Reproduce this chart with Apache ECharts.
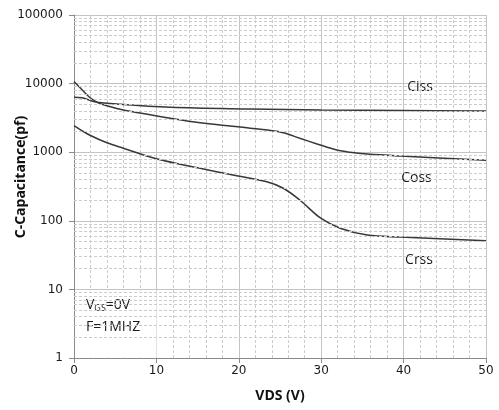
<!DOCTYPE html>
<html>
<head>
<meta charset="utf-8">
<script src="https://cdn.jsdelivr.net/npm/echarts@6/dist/echarts.min.js"></script>
<style>html,body{margin:0;padding:0;background:#fff}#c{width:499px;height:410px}</style>
</head>
<body>
<div id="c"></div>
<script>
// ---- data ----
var xTicks = [0, 10, 20, 30, 40, 50];
var yTicks = [1, 10, 100, 1000, 10000, 100000];
var cissX = [0, 1, 2.5, 5.6, 11.7, 21.4, 30, 40, 50];
var ciss  = [6300, 6200, 5450, 4990, 4510, 4260, 4120, 4040, 3990];
var cossX = [0, 1, 2, 3, 4, 5.6, 8, 11.7, 15.3, 21.4, 23.5, 25.4, 27.4, 29.5, 31.9, 33.5, 35.6, 39.6, 50];
var coss  = [10700, 8070, 6170, 5200, 4750, 4220, 3720, 3120, 2690, 2240, 2100, 1925, 1595, 1320, 1075, 997, 940, 880, 762];
var crssX = [0, 1, 2, 4, 6, 10, 15.3, 19.3, 23.4, 25.4, 27.4, 29.9, 32.3, 35.6, 39.6, 50];
var crss  = [2450, 2050, 1750, 1370, 1140, 800, 582, 465, 371, 298, 201, 110, 78, 62, 58, 51];
var minorMultipliers = [2, 3, 4, 5, 6, 7, 8, 9];

function pairs(xs, ys) { return xs.map(function (x, i) { return [x, ys[i]]; }); }

var minorLines = [];
for (var d = 0; d < yTicks.length - 1; d++) {
  minorMultipliers.forEach(function (m) { minorLines.push({ yAxis: yTicks[d] * m }); });
}

var lineColor = '#383838';
var curveStyle = { color: lineColor, width: 1.5 };
var chart = echarts.init(document.getElementById('c'));
chart.setOption({
  animation: false,
  grid: { left: 74, right: 13, top: 15, bottom: 52 },
  xAxis: {
    type: 'value', min: 0, max: 50, interval: 10,
    name: 'VDS (V)', nameLocation: 'middle', nameGap: 31,
    nameTextStyle: { fontFamily: 'Open Sans', fontWeight: 'bold', fontSize: 14, color: '#111' },
    axisLine: { lineStyle: { color: '#8a8a8a', width: 1 } },
    axisTick: { show: true, length: 5, lineStyle: { color: '#8a8a8a' } },
    axisLabel: { fontFamily: 'DejaVu Sans', fontSize: 12, color: '#1a1a1a', margin: 7 },
    splitLine: { show: true, lineStyle: { color: '#c4c4c4', width: 1 } },
    minorTick: { show: false, splitNumber: 5 },
    minorSplitLine: { show: true, lineStyle: { color: '#cccccc', width: 1, type: [3, 2] } }
  },
  yAxis: {
    type: 'log', logBase: 10, min: 1, max: 100000,
    axisLine: { show: true, lineStyle: { color: '#8a8a8a', width: 1 } },
    axisTick: { show: true, length: 5, lineStyle: { color: '#8a8a8a' } },
    axisLabel: { fontFamily: 'DejaVu Sans', fontSize: 12, color: '#1a1a1a', margin: 11,
      formatter: function (v) { return String(Math.round(v)); } },
    splitLine: { show: true, lineStyle: { color: '#c4c4c4', width: 1 } }
  },
  graphic: [
    { type: 'rect', z: 1.5, shape: { x: 75, y: 290.5, width: 81.5, height: 67 }, style: { fill: '#fff' } },
    { type: 'text', z: 5, x: 21, y: 177, rotation: Math.PI / 2,
      style: { text: 'C-Capacitance(pf)', fontFamily: 'Open Sans', fontWeight: 'bold', fontSize: 14, fill: '#111', align: 'center', verticalAlign: 'middle' } },
    { type: 'text', z: 5, x: 420, y: 87, style: { text: 'Ciss', fontFamily: 'Open Sans', fontSize: 14, fill: '#1a1a1a', align: 'center', verticalAlign: 'middle' } },
    { type: 'text', z: 5, x: 416.5, y: 178, style: { text: 'Coss', fontFamily: 'Open Sans', fontSize: 14, fill: '#1a1a1a', align: 'center', verticalAlign: 'middle' } },
    { type: 'text', z: 5, x: 419, y: 260, style: { text: 'Crss', fontFamily: 'Open Sans', fontSize: 14, fill: '#1a1a1a', align: 'center', verticalAlign: 'middle' } },
    { type: 'text', z: 5, x: 86, y: 305, style: { text: '{a|V}{b|GS}{a|=0V}', verticalAlign: 'middle',
      rich: { a: { fontFamily: 'Open Sans', fontSize: 14, fill: '#1a1a1a', verticalAlign: 'bottom' }, b: { fontFamily: 'Open Sans', fontSize: 9, fill: '#1a1a1a', verticalAlign: 'bottom', padding: [0, 0, -1, 0] } } } },
    { type: 'text', z: 5, x: 86, y: 327, style: { text: 'F=1MHZ', fontFamily: 'Open Sans', fontSize: 14, fill: '#1a1a1a', verticalAlign: 'middle' } }
  ],
  series: [
    { type: 'line', z: 1, data: [], silent: true,
      markLine: { silent: true, symbol: 'none', label: { show: false },
        lineStyle: { color: '#cccccc', width: 1, type: [3, 2] }, data: minorLines } },
    { name: 'Ciss', type: 'line', z: 3, smooth: 0.35, showSymbol: false, data: pairs(cissX, ciss), lineStyle: curveStyle },
    { name: 'Coss', type: 'line', z: 3, smooth: 0.35, showSymbol: false, data: pairs(cossX, coss), lineStyle: curveStyle },
    { name: 'Crss', type: 'line', z: 3, smooth: 0.35, showSymbol: false, data: pairs(crssX, crss), lineStyle: curveStyle }
  ]
});
</script>
</body>
</html>
